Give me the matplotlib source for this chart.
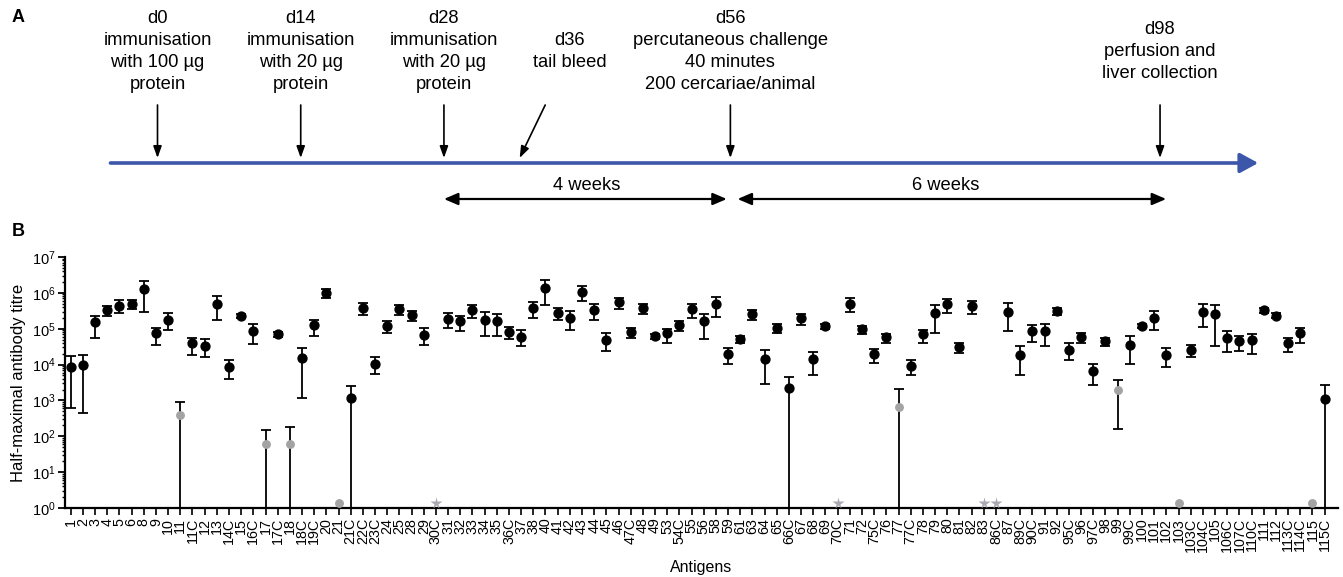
import numpy as np
import matplotlib
matplotlib.use('Agg')
import matplotlib.pyplot as plt
from matplotlib.ticker import LogLocator, NullFormatter, LogFormatterSciNotation

plt.rcParams['font.family'] = ['Liberation Sans', 'DejaVu Sans']
plt.rcParams['mathtext.fontset'] = 'custom'
plt.rcParams['mathtext.rm'] = 'Liberation Sans'

# ---------------------------------------------------------------- panel A data
event_days = [0, 14, 28, 36, 56, 98]
event_text = [
    'd0\nimmunisation\nwith 100 µg\nprotein',
    'd14\nimmunisation\nwith 20 µg\nprotein',
    'd28\nimmunisation\nwith 20 µg\nprotein',
    'd36\ntail bleed',
    'd56\npercutaneous challenge\n40 minutes\n200 cercariae/animal',
    'd98\nperfusion and\nliver collection',
]
periods = [(28, 56, '4 weeks'), (56, 98, '6 weeks')]

# ---------------------------------------------------------------- panel B data
labels = ['1', '2', '3', '4', '5', '6', '8', '9', '10', '11', '11C', '12', '13', '14C', '15',
          '16C', '17', '17C', '18', '18C', '19C', '20', '21', '21C', '22C', '23C', '24', '25',
          '28', '29', '30C', '31', '32', '33', '34', '35', '36C', '37', '38', '40', '41', '42',
          '43', '44', '45', '46', '47C', '48', '49', '53', '54C', '55', '56', '58', '59', '61',
          '63', '64', '65', '66C', '67', '68', '69', '70C', '71', '72', '75C', '76', '77', '77C',
          '78', '79', '80', '81', '82', '83', '86C', '87', '89C', '90C', '91', '92', '95C', '96',
          '97C', '98', '99', '99C', '100', '101', '102', '103', '103C', '104C', '105', '106C',
          '107C', '110C', '111', '112', '113C', '114C', '115', '115C']

# k = detected, g = grey (low), s = star (not detected)
kind = ['k', 'k', 'k', 'k', 'k', 'k', 'k', 'k', 'k', 'g', 'k', 'k', 'k', 'k', 'k',
        'k', 'g', 'k', 'g', 'k', 'k', 'k', 'g', 'k', 'k', 'k', 'k', 'k',
        'k', 'k', 's', 'k', 'k', 'k', 'k', 'k', 'k', 'k', 'k', 'k', 'k', 'k',
        'k', 'k', 'k', 'k', 'k', 'k', 'k', 'k', 'k', 'k', 'k', 'k', 'k', 'k',
        'k', 'k', 'k', 'k', 'k', 'k', 'k', 's', 'k', 'k', 'k', 'k', 'g', 'k',
        'k', 'k', 'k', 'k', 'k', 's', 's', 'k', 'k', 'k', 'k', 'k', 'k', 'k',
        'k', 'k', 'g', 'k', 'k', 'k', 'k', 'g', 'k', 'k', 'k', 'k',
        'k', 'k', 'k', 'k', 'k', 'k', 'g', 'k']

nan = np.nan
titre = [8.7e3, 9.8e3, 1.5e5, 3.3e5, 4.4e5, 5.0e5, 1.26e6, 7.4e4, 1.8e5, 3.8e2, 3.9e4, 3.4e4, 5.0e5, 8.7e3, 2.3e5,
         8.7e4, 60, 7.1e4, 60, 1.5e4, 1.26e5, 1.02e6, 1.35, 1.2e3, 3.7e5, 1.07e4, 1.2e5, 3.5e5,
         2.4e5, 6.8e4, 1.4, 1.9e5, 1.66e5, 3.3e5, 1.8e5, 1.66e5, 8.1e4, 6.0e4, 3.7e5, 1.4e6, 2.8e5, 2.0e5,
         1.07e6, 3.3e5, 5.0e4, 5.4e5, 8.3e4, 3.7e5, 6.2e4, 7.4e4, 1.29e5, 3.5e5, 1.6e5, 4.8e5, 2.0e4, 5.1e4,
         2.6e5, 1.45e4, 1.07e5, 2.2e3, 2.0e5, 1.4e4, 1.17e5, 1.4, 5.0e5, 1.0e5, 1.95e4, 5.8e4, 6.6e2, 9.3e3,
         6.9e4, 2.7e5, 4.8e5, 3.1e4, 4.3e5, 1.4, 1.4, 3.0e5, 1.86e4, 8.7e4, 8.7e4, 3.1e5, 2.6e4, 5.9e4,
         6.5e3, 4.4e4, 1.9e3, 3.5e4, 1.2e5, 2.0e5, 1.8e4, 1.35, 2.5e4, 3.0e5, 2.5e5, 5.5e4,
         4.4e4, 4.8e4, 3.3e5, 2.3e5, 3.9e4, 7.4e4, 1.35, 1.1e3]

upper = [1.7e4, 1.9e4, 2.3e5, 4.3e5, 6.2e5, 6.2e5, 2.2e6, 1.07e5, 2.8e5, 9.3e2, 5.6e4, 5.1e4, 8.1e5, 1.3e4, 2.6e5,
         1.35e5, 148, 8.1e4, 186, 2.9e4, 1.8e5, 1.3e6, nan, 2.6e3, 5.1e5, 1.6e4, 1.66e5, 4.6e5,
         3.2e5, 1.02e5, nan, 2.8e5, 2.3e5, 4.6e5, 3.0e5, 2.6e5, 1.12e5, 9.1e4, 5.5e5, 2.3e6, 3.8e5, 3.2e5,
         1.55e6, 4.9e5, 7.4e4, 7.1e5, 1.07e5, 5.0e5, 7.1e4, 1.0e5, 1.66e5, 5.0e5, 2.6e5, 7.6e5, 2.9e4, 6.2e4,
         3.4e5, 2.6e4, 1.38e5, 4.6e3, 2.6e5, 2.2e4, 1.35e5, nan, 7.1e5, 1.17e5, 2.75e4, 7.1e4, 2.1e3, 1.35e4,
         9.5e4, 4.6e5, 6.9e5, 4.1e4, 5.9e5, nan, nan, 5.2e5, 3.2e4, 1.3e5, 1.35e5, 3.7e5, 3.9e4, 7.6e4,
         1.07e4, 5.4e4, 3.7e3, 6.2e4, 1.35e5, 3.2e5, 2.9e4, nan, 3.5e4, 4.8e5, 4.6e5, 8.7e4,
         6.2e4, 7.2e4, 3.9e5, 2.7e5, 5.4e4, 1.07e5, nan, 2.7e3]

# nan here = error bar runs down to the axis (or no bar at all)
lower = [6.2e2, 4.6e2, 5.6e4, 2.3e5, 2.8e5, 3.5e5, 3.0e5, 3.5e4, 9.1e4, nan, 1.8e4, 1.6e4, 1.8e5, 3.9e3, 1.95e5,
         3.7e4, nan, 6.0e4, nan, 1.15e3, 6.3e4, 7.4e5, nan, nan, 2.4e5, 5.6e3, 7.4e4, 2.4e5,
         1.66e5, 3.5e4, nan, 1.02e5, 8.7e4, 1.95e5, 6.2e4, 6.2e4, 5.1e4, 3.2e4, 2.0e5, 4.5e5, 1.7e5, 9.1e4,
         5.8e5, 1.8e5, 2.4e4, 3.5e5, 5.6e4, 2.5e5, 5.2e4, 4.1e4, 8.7e4, 2.0e5, 5.1e4, 2.1e5, 1.07e4, 4.1e4,
         1.8e5, 2.8e3, 7.4e4, nan, 1.3e5, 5.0e3, 9.8e4, nan, 3.0e5, 7.1e4, 1.12e4, 3.9e4, nan, 5.2e3,
         4.1e4, 7.8e4, 2.75e5, 2.1e4, 2.6e5, nan, nan, 8.7e4, 5.0e3, 4.3e4, 3.3e4, 2.4e5, 1.3e4, 4.1e4,
         2.75e3, 3.3e4, 1.55e2, 1.02e4, 1.02e5, 9.3e4, 8.3e3, nan, 1.6e4, 1.12e5, 3.2e4, 2.2e4,
         2.4e4, 1.95e4, 2.75e5, 2.0e5, 2.2e4, 3.9e4, nan, nan]

# --------------------------------------------------------------------------------------------

W, H = 1343, 577
fig = plt.figure(figsize=(W / 100, H / 100), dpi=100)

# ---- panel A : timeline (x in days, y in pixels from the top)
px0, ppd = 157.5, 10.23
axA = fig.add_axes([0, 1 - 230 / H, 1, 230 / H])
axA.set_xlim(-px0 / ppd, (W - px0) / ppd)
axA.set_ylim(230, 0)
axA.axis('off')

fs = 13.2
ls = 1.39
blue = '#3c56aa'
axA.annotate('', xy=(107.6, 163), xytext=(-4.6, 163),
             arrowprops=dict(arrowstyle='-|>,head_length=0.55,head_width=0.3', color=blue,
                             lw=2.6, shrinkA=0, shrinkB=0, mutation_scale=20))

for d, t in zip(event_days, event_text):
    if d == 36:
        axA.annotate('', xy=(d - 0.6, 158), xytext=(d + 1.9, 105),
                     arrowprops=dict(arrowstyle='-|>,head_length=0.7,head_width=0.25', color='k',
                                     lw=1.2, shrinkA=0, shrinkB=0, mutation_scale=10))
        axA.text(d + 4.3, 32, t, ha='center', va='top', fontsize=fs, linespacing=ls)
    else:
        axA.annotate('', xy=(d, 158), xytext=(d, 105),
                     arrowprops=dict(arrowstyle='-|>,head_length=0.7,head_width=0.25', color='k',
                                     lw=1.2, shrinkA=0, shrinkB=0, mutation_scale=10))
        ty = 21 if d == 98 else 10
        axA.text(d, ty, t, ha='center', va='top', fontsize=fs, linespacing=ls)

for a, b, t in periods:
    axA.annotate('', xy=(b - 0.35 if a == 28 else b + 0.6, 199), xytext=(a if a == 28 else a + 0.7, 199),
                 arrowprops=dict(arrowstyle='<|-|>,head_length=0.7,head_width=0.3', color='k',
                                 lw=1.6, shrinkA=0, shrinkB=0, mutation_scale=12))
    axA.text((a + b) / 2, 186, t, ha='center', va='center', fontsize=fs)

fig.text(12 / W, 1 - 18 / H, 'A', fontsize=13, fontweight='bold', va='center')
fig.text(12 / W, 1 - 232 / H, 'B', fontsize=13, fontweight='bold', va='center')

# ---- panel B : titres
ax = fig.add_axes([65 / W, 1 - 508 / H, 1273 / W, 251 / H])
x = np.arange(len(labels))
titre = np.array(titre)
upper = np.array(upper)
lower = np.array(lower)
kind = np.array(kind)

bar = ~np.isnan(upper)
lo = np.where(np.isnan(lower), 0.1, lower)
ax.errorbar(x[bar], titre[bar], yerr=[titre[bar] - lo[bar], upper[bar] - titre[bar]],
            fmt='none', ecolor='k', elinewidth=1.3, capsize=3.5, capthick=1.3, zorder=2)

m = kind == 'k'
ax.plot(x[m], titre[m], 'o', color='k', ms=6.4, zorder=3)
m = kind == 'g'
ax.plot(x[m], titre[m], 'o', color='#a3a3a3', ms=6.4, mec='none', zorder=3, clip_on=False)
m = kind == 's'
ax.plot(x[m], titre[m], '*', color='#a9a9b2', ms=8.5, mec='none', zorder=3, clip_on=False)

ax.set_yscale('log')
ax.set_ylim(1, 1e7)
ax.set_xlim(-0.47, 104.1)
ax.yaxis.set_major_locator(LogLocator(base=10, numticks=20))
ax.yaxis.set_major_formatter(LogFormatterSciNotation())
ax.yaxis.set_minor_locator(LogLocator(base=10, subs=np.arange(2, 10), numticks=100))
ax.yaxis.set_minor_formatter(NullFormatter())

ax.set_xticks(x)
ax.set_xticklabels(labels, rotation=90, fontsize=10.3)
ax.tick_params(axis='y', labelsize=10.5, length=5, width=1.3, pad=2)
ax.tick_params(axis='y', which='minor', length=2.5, width=1)
ax.tick_params(axis='x', length=5, width=1.2, pad=2)

for s in ['top', 'right']:
    ax.spines[s].set_visible(False)
for s in ['left', 'bottom']:
    ax.spines[s].set_linewidth(1.6)

ax.set_ylabel('Half-maximal antibody titre', fontsize=12, labelpad=4)
ax.set_xlabel('Antigens', fontsize=11.5, labelpad=6)

fig.savefig('out.png', dpi=100)
